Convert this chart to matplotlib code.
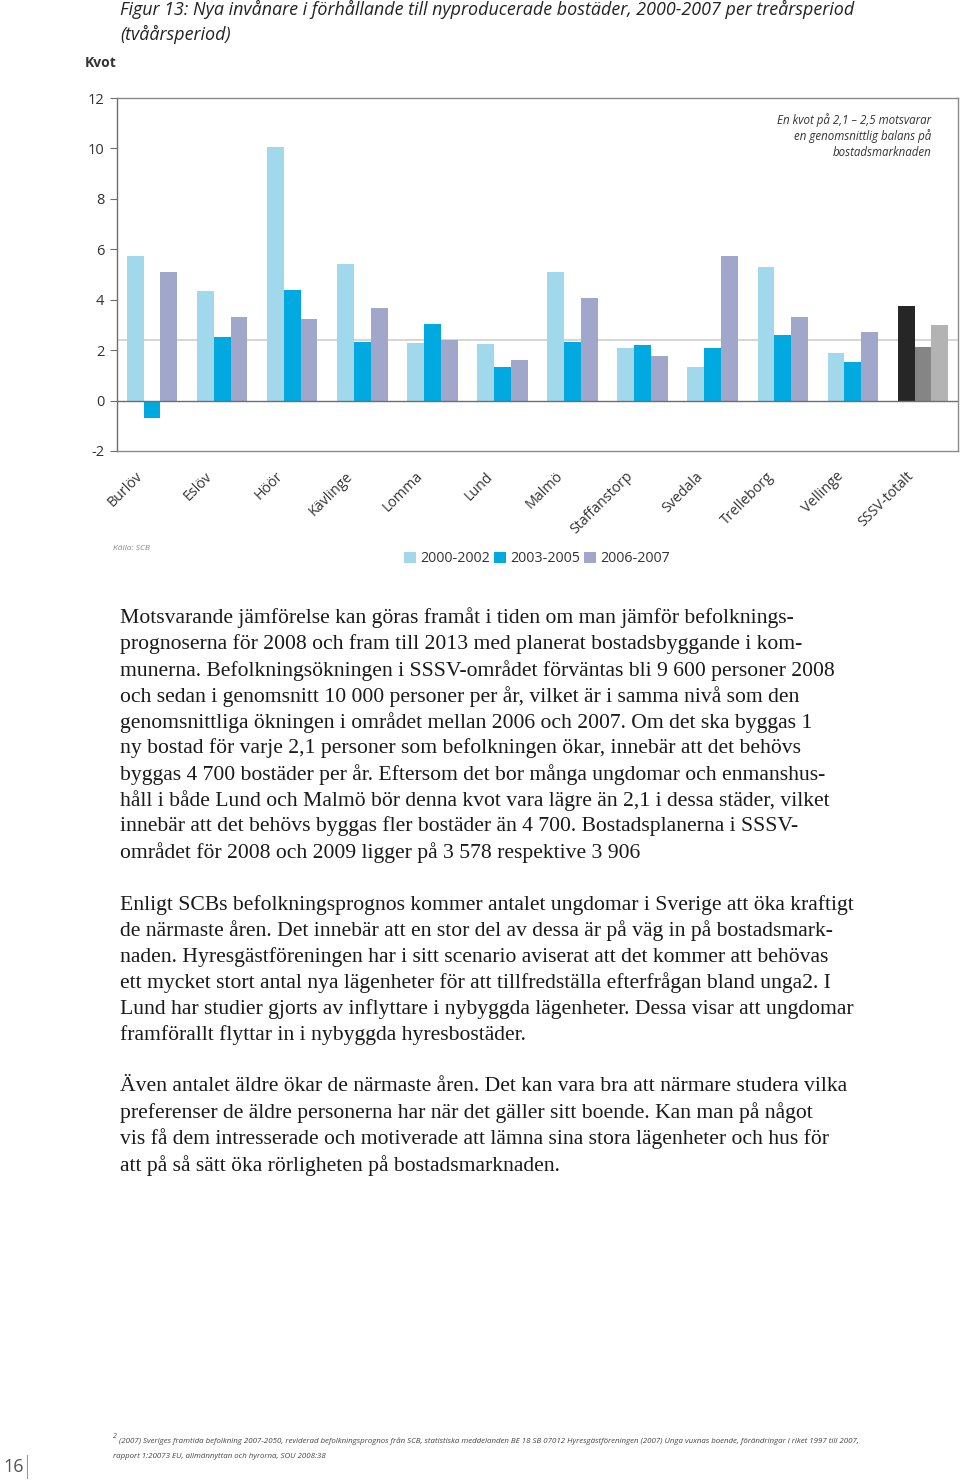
import matplotlib
matplotlib.use('Agg')
import matplotlib.pyplot as plt
import matplotlib.transforms as mtransforms
from matplotlib.lines import Line2D
import numpy as np

# ---------------- data ----------------
categories = ["Burlöv", "Eslöv", "Höör", "Kävlinge", "Lomma", "Lund", "Malmö",
              "Staffanstorp", "Svedala", "Trelleborg", "Vellinge", "SSSV-totalt"]
series_labels = ["2000-2002", "2003-2005", "2006-2007"]
v_2000_2002 = [5.75, 4.34, 10.04, 5.41, 2.27, 2.26, 5.10, 2.09, 1.35, 5.30, 1.90, 3.74]
v_2003_2005 = [-0.68, 2.52, 4.40, 2.32, 3.04, 1.33, 2.34, 2.20, 2.09, 2.59, 1.54, 2.11]
v_2006_2007 = [5.09, 3.33, 3.22, 3.66, 2.39, 1.61, 4.08, 1.78, 5.75, 3.32, 2.72, 2.98]
balance_line = 2.4
yticks = [-2, 0, 2, 4, 6, 8, 10, 12]

title_lines = ["Figur 13: Nya invånare i förhållande till nyproducerade bostäder, 2000-2007 per treårsperiod",
               "(tvåårsperiod)"]
note_lines = ["En kvot på 2,1 – 2,5 motsvarar", "en genomsnittlig balans på", "bostadsmarknaden"]

body_lines = [
    "Motsvarande jämförelse kan göras framåt i tiden om man jämför befolknings-",
    "prognoserna för 2008 och fram till 2013 med planerat bostadsbyggande i kom-",
    "munerna. Befolkningsökningen i SSSV-området förväntas bli 9 600 personer 2008",
    "och sedan i genomsnitt 10 000 personer per år, vilket är i samma nivå som den",
    "genomsnittliga ökningen i området mellan 2006 och 2007. Om det ska byggas 1",
    "ny bostad för varje 2,1 personer som befolkningen ökar, innebär att det behövs",
    "byggas 4 700 bostäder per år. Eftersom det bor många ungdomar och enmanshus-",
    "håll i både Lund och Malmö bör denna kvot vara lägre än 2,1 i dessa städer, vilket",
    "innebär att det behövs byggas fler bostäder än 4 700. Bostadsplanerna i SSSV-",
    "området för 2008 och 2009 ligger på 3 578 respektive 3 906",
    None,
    "Enligt SCBs befolkningsprognos kommer antalet ungdomar i Sverige att öka kraftigt",
    "de närmaste åren. Det innebär att en stor del av dessa är på väg in på bostadsmark-",
    "naden. Hyresgästföreningen har i sitt scenario aviserat att det kommer att behövas",
    "ett mycket stort antal nya lägenheter för att tillfredställa efterfrågan bland unga2. I",
    "Lund har studier gjorts av inflyttare i nybyggda lägenheter. Dessa visar att ungdomar",
    "framförallt flyttar in i nybyggda hyresbostäder.",
    None,
    "Även antalet äldre ökar de närmaste åren. Det kan vara bra att närmare studera vilka",
    "preferenser de äldre personerna har när det gäller sitt boende. Kan man på något",
    "vis få dem intresserade och motiverade att lämna sina stora lägenheter och hus för",
    "att på så sätt öka rörligheten på bostadsmarknaden.",
]
footnote_lines = [
    "(2007) Sveriges framtida befolkning 2007-2050, reviderad befolkningsprognos från SCB, statistiska meddelanden BE 18 SB 07012 Hyresgästföreningen (2007) Unga vuxnas boende, förändringar i riket 1997 till 2007,",
    "rapport 1:20073 EU, allmännyttan och hyrorna, SOU 2008:38",
]

# ---------------- style ----------------
W, H = 960, 1480
def fx(px): return px / W
def fy(py): return 1 - py / H

sans = ['Open Sans', 'DejaVu Sans']
serif = ['Liberation Serif', 'DejaVu Serif']
plt.rcParams['font.family'] = ['Open Sans', 'DejaVu Sans']

series_colors = ['#a2d8eb', '#00a9df', '#a0a7cb']
total_colors = ['#262626', '#858585', '#b3b3b3']
axis_gray = '#6e6e6e'

fig = plt.figure(figsize=(W / 100, H / 100), dpi=100)
fig.patch.set_facecolor('white')

ax = fig.add_axes([fx(117), fy(451), fx(958) - fx(117), fy(98) - fy(451)])
x = np.arange(len(categories))
bw = 0.24
all_series = [v_2000_2002, v_2003_2005, v_2006_2007]
for i, (vals, lab) in enumerate(zip(all_series, series_labels)):
    cols = [series_colors[i]] * (len(categories) - 1) + [total_colors[i]]
    ax.bar(x + (i - 1) * bw, vals, width=bw, color=cols, label=lab, zorder=2, linewidth=0)

ax.axhline(0, color=axis_gray, lw=1.0, zorder=3)
ax.axhline(balance_line, color='#d2d2d2', lw=1.3, zorder=1)
ax.set_xlim(-0.5, 11.5)
ax.set_ylim(-2, 12)
ax.set_yticks(yticks)
ax.set_yticklabels([str(t) for t in yticks])
ax.tick_params(axis='y', direction='out', length=5, width=0.8, color=axis_gray,
               labelsize=10.5, labelcolor='#333333', pad=4)
for s in ax.spines.values():
    s.set_color('#8a8a8a')
    s.set_linewidth(1.0)
ax.spines['left'].set_color(axis_gray)

ax.set_xticks(x)
ax.set_xticklabels(categories, rotation=45, ha='right', va='top',
                   rotation_mode='anchor', fontsize=10.3, color='#333333')
ax.tick_params(axis='x', length=0, pad=13)
offset = mtransforms.ScaledTranslation(-0.17, 0, fig.dpi_scale_trans)
for lbl in ax.get_xticklabels():
    lbl.set_transform(lbl.get_transform() + offset)

# legend
handles, labels = ax.get_legend_handles_labels()
fig.legend(handles, labels, loc='center', bbox_to_anchor=(fx(537), fy(559)), ncol=3,
           frameon=False, fontsize=10.3, handlelength=0.85, handleheight=0.85,
           handletextpad=0.3, columnspacing=0.25, labelcolor='#333333')

# texts around chart
fig.text(fx(120), fy(9), title_lines[0], style='italic', fontsize=12.9, family=sans,
         color='#222222', va='center', ha='left')
fig.text(fx(120), fy(34), title_lines[1], style='italic', fontsize=12.9, family=sans,
         color='#222222', va='center', ha='left')
fig.text(fx(85), fy(63), "Kvot", weight='bold', fontsize=10, family=sans, color='#333333',
         va='center', ha='left')
for k, nl in enumerate(note_lines):
    fig.text(fx(931), fy(120 + 16 * k), nl, style='italic', fontsize=8.3, family=sans,
             color='#333333', va='center', ha='right')
fig.text(fx(113), fy(548), "Källa: SCB", style='italic', fontsize=6, family=sans,
         color='#888888', va='center', ha='left')

# body text
y0 = 618
for k, line in enumerate(body_lines):
    if line is None:
        continue
    fig.text(fx(120), fy(y0 + k * 26.05), line, fontsize=15.6, family=serif,
             color='#1a1a1a', va='center', ha='left')

# footnote
fig.text(fx(113), fy(1437), "2", fontsize=5, family=sans, style='italic',
         color='#444444', va='center', ha='left')
fig.text(fx(119), fy(1441), footnote_lines[0], fontsize=5.7, family=sans, style='italic',
         color='#444444', va='center', ha='left')
fig.text(fx(113), fy(1457), footnote_lines[1], fontsize=5.7, family=sans, style='italic',
         color='#444444', va='center', ha='left')

# page number
fig.text(fx(3), fy(1467), "16", fontsize=13, family=sans, color='#555555',
         va='center', ha='left')
fig.add_artist(Line2D([fx(27), fx(27)], [fy(1455), fy(1478)], color='#999999', lw=0.8))

fig.savefig('out.png', dpi=100, facecolor='white')
